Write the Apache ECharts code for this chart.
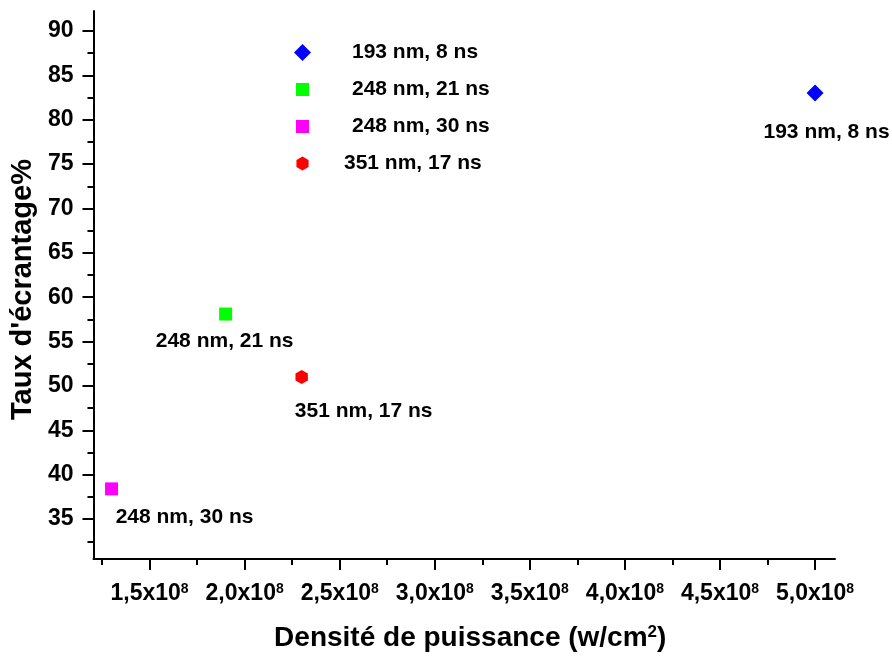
<!DOCTYPE html>
<html>
<head>
<meta charset="utf-8">
<title>Taux d'écrantage</title>
<script src="https://cdn.jsdelivr.net/npm/echarts@6/dist/echarts.min.js"></script>
<style>
  html, body { margin: 0; padding: 0; background: #fff; }
  #chart { width: 892px; height: 658px; }
</style>
</head>
<body>
<div id="chart"></div>
<script>
// Laser conditions (wavelength, pulse duration)
const seriesNames = ['193 nm, 8 ns', '248 nm, 21 ns', '248 nm, 30 ns', '351 nm, 17 ns'];
// Power density (W/cm²)
const powerDensity = [5.0e8, 1.9e8, 1.3e8, 2.3e8];
// Screening rate (%)
const screeningRate = [83.0, 58.1, 38.4, 51.0];
const seriesColors = ['#0000ff', '#00ff00', '#ff00ff', '#ff0000'];

// Axis ranges and ticks
const xRange = [1.205e8, 5.105e8];
const yRange = [30.5, 92.25];
const xMajorTicks = [1.5e8, 2.0e8, 2.5e8, 3.0e8, 3.5e8, 4.0e8, 4.5e8, 5.0e8];
const xMinorTicks = [1.25e8, 1.75e8, 2.25e8, 2.75e8, 3.25e8, 3.75e8, 4.25e8, 4.75e8];
const yMajorTicks = [35, 40, 45, 50, 55, 60, 65, 70, 75, 80, 85, 90];
const yMinorTicks = [32.5, 37.5, 42.5, 47.5, 52.5, 57.5, 62.5, 67.5, 72.5, 77.5, 82.5, 87.5];

const FONT = "'Liberation Sans', Arial, Helvetica, sans-serif";

// Plot symbols
const hexPath = 'path://M0,-1L0.866,-0.5L0.866,0.5L0,1L-0.866,0.5L-0.866,-0.5Z';
const plotSymbols = ['diamond', 'rect', 'rect', hexPath];
const plotSizes = [17, 13, 13, [12.4, 14]];
// Legend icons (padded inside a 17x17 box so the shapes keep their relative size)
const legendIcons = [
  'diamond',
  'path://M0,0M17,17M2,2L15,2L15,15L2,15Z',
  'path://M0,0M17,17M2,2L15,2L15,15L2,15Z',
  'path://M0,0M17,17M8.5,1.5L14.56,5L14.56,12L8.5,15.5L2.44,12L2.44,5Z'
];
const legendTextPad = [36, 36, 36, 28];
// Point label offsets relative to each marker
const labelOffsets = [[11.5, 39.5], [-1, 27], [73, 28.4], [62, 34]];

const axisLineStyle = { color: '#000', width: 2 };

function sciLabel(v) {
  const m = (v / 1e8).toFixed(1).replace('.', ',');
  return '{b|' + m + 'x10}{s|8}';
}

const series = seriesNames.map(function (name, i) {
  return {
    name: name,
    type: 'scatter',
    xAxisIndex: 0,
    yAxisIndex: 0,
    symbol: plotSymbols[i],
    symbolSize: plotSizes[i],
    itemStyle: { color: seriesColors[i], opacity: 1 },
    label: {
      show: true,
      position: 'inside',
      offset: labelOffsets[i],
      formatter: '{a}',
      color: '#000',
      fontFamily: FONT,
      fontWeight: 'bold',
      fontSize: 21
    },
    emphasis: { disabled: true },
    data: [[powerDensity[i], screeningRate[i]]]
  };
});

const chart = echarts.init(document.getElementById('chart'), null, { renderer: 'canvas' });
chart.setOption({
  animation: false,
  backgroundColor: '#fff',
  grid: { left: 92, right: 57, top: 11, bottom: 99 },
  legend: {
    orient: 'vertical',
    left: 294,
    top: 40,
    padding: 0,
    itemWidth: 17,
    itemHeight: 17,
    itemGap: 12,
    selectedMode: false,
    textStyle: {
      fontFamily: FONT,
      fontWeight: 'bold',
      fontSize: 21,
      lineHeight: 21,
      color: '#000'
    },
    data: seriesNames.map(function (name, i) {
      return {
        name: name,
        icon: legendIcons[i],
        itemStyle: { color: seriesColors[i] },
        textStyle: { padding: [4, 0, 0, legendTextPad[i]] }
      };
    })
  },
  xAxis: [
    {
      type: 'value',
      position: 'bottom',
      min: xRange[0],
      max: xRange[1],
      axisLine: { show: true, onZero: false, lineStyle: axisLineStyle },
      axisTick: { show: true, customValues: xMajorTicks, length: 11, lineStyle: axisLineStyle },
      axisLabel: {
        customValues: xMajorTicks,
        margin: 23,
        formatter: sciLabel,
        rich: {
          b: { fontFamily: FONT, fontWeight: 'bold', fontSize: 23, lineHeight: 23, color: '#000' },
          s: { fontFamily: FONT, fontWeight: 'bold', fontSize: 14, lineHeight: 14, verticalAlign: 'top', color: '#000' }
        }
      },
      splitLine: { show: false },
      name: 'Densité de puissance (w/cm{s|2})',
      nameLocation: 'middle',
      nameGap: 65,
      nameTextStyle: {
        fontFamily: FONT,
        fontWeight: 'bold',
        fontSize: 28,
        color: '#000',
        padding: [0, 0, 0, 12],
        rich: {
          s: { fontFamily: FONT, fontWeight: 'bold', fontSize: 17, lineHeight: 17, verticalAlign: 'top', color: '#000' }
        }
      }
    },
    {
      type: 'value',
      position: 'bottom',
      min: xRange[0],
      max: xRange[1],
      axisLine: { show: false, onZero: false },
      axisTick: { show: true, customValues: xMinorTicks, length: 6, lineStyle: axisLineStyle },
      axisLabel: { show: false },
      splitLine: { show: false }
    }
  ],
  yAxis: [
    {
      type: 'value',
      position: 'left',
      min: yRange[0],
      max: yRange[1],
      axisLine: { show: true, onZero: false, lineStyle: axisLineStyle },
      axisTick: { show: true, customValues: yMajorTicks, length: 11, lineStyle: axisLineStyle },
      axisLabel: {
        customValues: yMajorTicks,
        margin: 20,
        fontFamily: FONT,
        fontWeight: 'bold',
        fontSize: 23,
        color: '#000'
      },
      splitLine: { show: false },
      name: "Taux d'écrantage%",
      nameLocation: 'middle',
      nameGap: 52,
      nameTextStyle: {
        fontFamily: FONT,
        fontWeight: 'bold',
        fontSize: 29,
        color: '#000',
        padding: [0, 9, 0, 0]
      }
    },
    {
      type: 'value',
      position: 'left',
      min: yRange[0],
      max: yRange[1],
      axisLine: { show: false, onZero: false },
      axisTick: { show: true, customValues: yMinorTicks, length: 6, lineStyle: axisLineStyle },
      axisLabel: { show: false },
      splitLine: { show: false }
    }
  ],
  series: series
});
</script>
</body>
</html>
